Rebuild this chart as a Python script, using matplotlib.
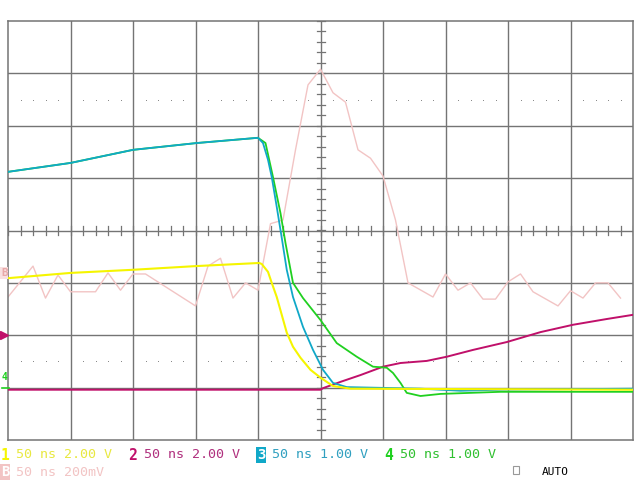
import matplotlib
matplotlib.use("Agg")
import matplotlib.pyplot as plt
import numpy as np

# Time in ns (50 ns/div, 10 div); values in screen divisions (8 div, centre line = 0)
ch1_t = [0, 50, 100, 150, 201, 203, 208, 211, 215, 219, 223, 228, 234, 242, 250, 260, 274, 500]
ch1_v = [-0.91, -0.81, -0.75, -0.68, -0.62, -0.64, -0.79, -1.00, -1.27, -1.61, -1.95, -2.22,
         -2.43, -2.66, -2.81, -2.97, -3.02, -3.04]

ch2_t = [0, 250, 252, 266, 282, 300, 314, 335, 351, 372, 399, 426, 452, 479, 500]
ch2_v = [-3.04, -3.04, -3.01, -2.89, -2.76, -2.60, -2.53, -2.49, -2.41, -2.28, -2.13, -1.94,
         -1.80, -1.69, -1.61]

ch3_t = [0, 50, 100, 151, 200, 204, 208, 211, 215, 219, 223, 228, 236, 244, 252, 260, 271,
         330, 362, 394, 500]
ch3_v = [1.12, 1.29, 1.54, 1.67, 1.77, 1.67, 1.35, 1.02, 0.45, -0.14, -0.75, -1.27, -1.84,
         -2.28, -2.66, -2.91, -2.99, -3.02, -3.06, -3.04, -3.02]

ch4_t = [0, 50, 100, 151, 200, 206, 212, 218, 222, 228, 236, 250, 263, 279, 292, 303, 308,
         314, 319, 330, 346, 394, 500]
ch4_v = [1.12, 1.29, 1.54, 1.67, 1.77, 1.67, 1.02, 0.33, -0.24, -1.00, -1.29, -1.71, -2.15,
         -2.41, -2.60, -2.62, -2.72, -2.91, -3.10, -3.16, -3.12, -3.08, -3.08]

mathB_t = [0, 20, 30, 40, 50, 70, 80, 90, 100, 110, 150, 160, 170, 180, 190, 200, 210, 220,
           230, 240, 250, 260, 270, 280, 290, 300, 310, 320, 340, 350, 360, 370, 380, 390,
           400, 410, 420, 440, 450, 460, 470, 480, 490]
mathB_v = [-1.27, -0.68, -1.29, -0.85, -1.17, -1.17, -0.81, -1.14, -0.83, -0.83, -1.44, -0.68,
           -0.53, -1.29, -1.00, -1.14, 0.13, 0.20, 1.54, 2.78, 3.08, 2.63, 2.45, 1.54, 1.38,
           1.04, 0.20, -1.00, -1.27, -0.83, -1.14, -1.00, -1.31, -1.31, -0.98, -0.83, -1.17,
           -1.44, -1.15, -1.29, -1.00, -1.00, -1.29]

labels_row1 = [("1", "50 ns 2.00 V"), ("2", "50 ns 2.00 V"), ("3", "50 ns 1.00 V"),
               ("4", "50 ns 1.00 V")]
label_B = ("B", "50 ns 200mV")
mode_text = "AUTO"

c_yellow = "#f5f500"
c_magenta = "#c0106a"
c_cyan = "#10a8c8"
c_green = "#20d020"
c_pink = "#f2c4c4"
c_grid = "#747474"

W, H = 640, 480
fig = plt.figure(figsize=(6.4, 4.8), dpi=100)
fig.patch.set_facecolor("white")

ax = fig.add_axes([8 / W, 40 / H, 625 / W, 419 / H])
ax.set_xlim(0, 500)
ax.set_ylim(-4, 4)
ax.set_xticks([])
ax.set_yticks([])
for s in ax.spines.values():
    s.set_color(c_grid)
    s.set_linewidth(1.1)

for t in np.arange(50, 500, 50):
    ax.axvline(t, color=c_grid, lw=1.0, zorder=1)
for v in np.arange(-3, 4, 1):
    ax.axhline(v, color=c_grid, lw=1.0, zorder=1)

# centre-line minor ticks
for t in np.arange(0, 501, 10):
    ax.plot([t, t], [-0.08, 0.08], color=c_grid, lw=0.9, zorder=1)
for v in np.arange(-4, 4.01, 0.2):
    ax.plot([246.8, 253.2], [v, v], color=c_grid, lw=0.9, zorder=1)

# dotted cursor rows
dot_t = [t for t in np.arange(10, 500, 10) if t % 50 != 0]
for v in (2.5, -2.5):
    ax.plot(dot_t, [v] * len(dot_t), ls="none", marker="s", ms=0.7, mew=0,
            color="#8a8a8a", zorder=1)

ax.plot(mathB_t, mathB_v, color=c_pink, lw=1.0, zorder=2)
ax.plot(ch2_t, ch2_v, color=c_magenta, lw=1.4, zorder=3)
ax.plot(ch4_t, ch4_v, color=c_green, lw=1.3, zorder=4)
ax.plot(ch3_t, ch3_v, color=c_cyan, lw=1.3, zorder=5)
ax.plot(ch1_t, ch1_v, color=c_yellow, lw=1.5, zorder=6)

# left-side reference markers
fig.text(1 / W, 1 - 273 / H, "B", color="#e8a8a8", fontsize=8, family="DejaVu Sans Mono",
         va="center", ha="left", weight="bold",
         bbox=dict(boxstyle="square,pad=0.05", fc="#f8e0e0", ec="none"))
fig.lines.append(plt.Line2D([4 / W], [1 - 335 / H], marker=">", ms=6, color=c_magenta,
                            transform=fig.transFigure, ls="none"))
fig.text(2 / W, 1 - 377 / H, "4", color=c_green, fontsize=7, family="DejaVu Sans Mono",
         va="center", ha="left", weight="bold")
fig.lines.append(plt.Line2D([2 / W, 9 / W], [1 - 388 / H, 1 - 388 / H], color=c_green, lw=1.2,
                            transform=fig.transFigure))

# bottom status text
mono = "DejaVu Sans Mono"
fs = 9.6
row1_y = 1 - 455 / H
row2_y = 1 - 472 / H
num_x = [1, 128, 257, 384]
txt_x = [16, 144, 272, 400]
num_cols = [c_yellow, c_magenta, "white", c_green]
txt_cols = ["#e8e840", "#b0307e", "#30a0c0", "#30c030"]
for (num, txt), nx, tx, nc, tc in zip(labels_row1, num_x, txt_x, num_cols, txt_cols):
    if num == "3":
        fig.text(nx / W, row1_y, num, color=nc, fontsize=10, family=mono, weight="bold",
                 va="center", ha="left",
                 bbox=dict(boxstyle="square,pad=0.05", fc=c_cyan, ec="none"))
    else:
        fig.text(nx / W, row1_y, num, color=nc, fontsize=10.5, family=mono, weight="bold",
                 va="center", ha="left")
    fig.text(tx / W, row1_y, txt, color=tc, fontsize=fs, family=mono, va="center", ha="left")

fig.text(1 / W, row2_y, label_B[0], color="white", fontsize=10, family=mono, weight="bold",
         va="center", ha="left", bbox=dict(boxstyle="square,pad=0.05", fc=c_pink, ec="none"))
fig.text(16 / W, row2_y, label_B[1], color=c_pink, fontsize=fs, family=mono, va="center",
         ha="left")

fig.patches.append(plt.Rectangle((513 / W, 1 - 474 / H), 6 / W, 8 / H, fill=False,
                                 ec="#999999", lw=0.8, transform=fig.transFigure))
fig.text(542 / W, row2_y, mode_text, color="black", fontsize=8, family=mono, va="center",
         ha="left")

fig.savefig("out.png", dpi=100, facecolor="white")
